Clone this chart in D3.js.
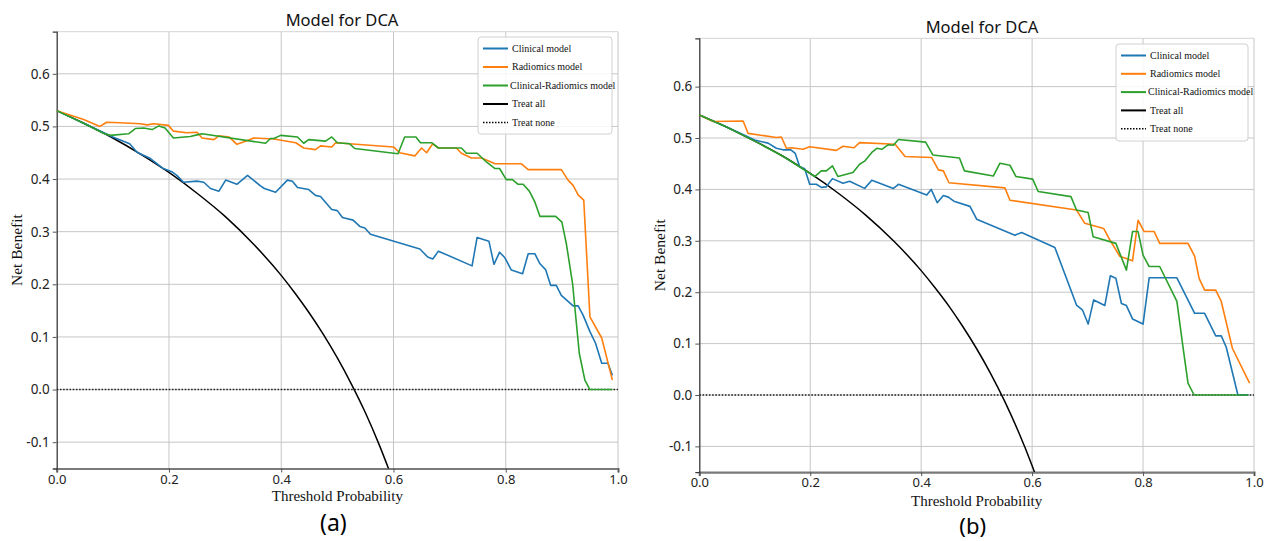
<!DOCTYPE html>
<html>
<head>
<meta charset="utf-8">
<script src="https://cdn.jsdelivr.net/npm/d3@7"></script>
<style>
  body { margin: 0; background: #fff; }
  svg { display: block; }
</style>
</head>
<body>
<div id="chart"></div>
<script>
// threshold probability / net benefit pairs
const clinicalA = [[0,.53],[.05,.505],[.10,.48],[.13,.467],[.143,.451],[.167,.439],[.179,.429],[.19,.42],[.205,.414],[.214,.407],[.226,.394],[.25,.396],[.262,.394],[.274,.382],[.289,.377],[.301,.398],[.321,.39],[.34,.407],[.363,.387],[.37,.382],[.39,.375],[.411,.398],[.42,.396],[.429,.384],[.449,.38],[.461,.369],[.47,.367],[.49,.342],[.50,.34],[.509,.327],[.528,.322],[.54,.31],[.549,.307],[.559,.295],[.647,.267],[.661,.252],[.67,.248],[.68,.263],[.74,.235],[.749,.289],[.77,.282],[.779,.238],[.789,.261],[.798,.251],[.81,.227],[.83,.22],[.84,.258],[.852,.258],[.861,.239],[.871,.228],[.88,.198],[.89,.198],[.899,.179],[.92,.159],[.929,.159],[.938,.141],[.95,.11],[.96,.088],[.971,.05],[.982,.05],[.99,.027]];
const radiomicsA = [[0,.53],[.048,.513],[.077,.50],[.089,.508],[.113,.507],[.149,.505],[.161,.503],[.173,.505],[.199,.502],[.208,.491],[.232,.488],[.25,.489],[.259,.478],[.28,.475],[.289,.482],[.307,.48],[.321,.466],[.339,.473],[.351,.478],[.387,.476],[.426,.469],[.44,.459],[.461,.456],[.47,.463],[.49,.461],[.497,.469],[.60,.461],[.611,.45],[.638,.444],[.65,.459],[.659,.45],[.67,.467],[.68,.459],[.712,.459],[.721,.449],[.739,.44],[.757,.44],[.781,.429],[.828,.429],[.84,.418],[.899,.418],[.911,.398],[.92,.388],[.929,.37],[.939,.36],[.95,.138],[.971,.098],[.99,.018]];
const combinedA = [[0,.53],[.05,.505],[.083,.487],[.095,.483],[.128,.486],[.14,.496],[.155,.497],[.17,.494],[.182,.501],[.193,.497],[.208,.478],[.238,.481],[.25,.484],[.259,.486],[.372,.468],[.381,.477],[.387,.477],[.399,.483],[.429,.48],[.44,.468],[.449,.475],[.479,.472],[.49,.48],[.50,.469],[.522,.467],[.531,.458],[.608,.448],[.62,.48],[.64,.48],[.648,.469],[.668,.469],[.68,.459],[.721,.459],[.73,.449],[.749,.449],[.766,.432],[.781,.42],[.789,.42],[.801,.399],[.812,.399],[.822,.39],[.831,.39],[.842,.377],[.852,.356],[.861,.329],[.889,.329],[.90,.318],[.908,.277],[.919,.202],[.931,.069],[.941,.018],[.95,0],[.99,0]];
const treatAllA = [[0,.53],[.05,.505],[.1,.478],[.15,.447],[.2,.4125],[.25,.373],[.3,.329],[.35,.277],[.4,.217],[.425,.1826],[.45,.1455],[.475,.1048],[.5,.06],[.525,.0105],[.55,-.044],[.575,-.106],[.6,-.175]];

const clinicalB = [[0,.545],[.05,.521],[.10,.496],[.124,.49],[.139,.48],[.151,.477],[.165,.477],[.173,.47],[.181,.444],[.19,.44],[.199,.41],[.211,.41],[.22,.404],[.229,.405],[.24,.421],[.259,.412],[.271,.416],[.298,.402],[.311,.418],[.35,.402],[.359,.41],[.41,.389],[.418,.40],[.429,.374],[.44,.388],[.449,.385],[.459,.377],[.488,.367],[.50,.342],[.569,.311],[.581,.316],[.641,.287],[.68,.175],[.691,.165],[.701,.138],[.711,.185],[.731,.174],[.741,.232],[.751,.227],[.761,.178],[.77,.174],[.781,.148],[.80,.138],[.811,.228],[.861,.228],[.893,.159],[.911,.159],[.931,.115],[.941,.115],[.95,.093],[.971,0],[.99,0]];
const radiomicsB = [[0,.545],[.025,.532],[.079,.533],[.088,.509],[.139,.501],[.148,.502],[.157,.48],[.166,.481],[.187,.478],[.199,.483],[.247,.476],[.259,.484],[.279,.481],[.289,.491],[.353,.488],[.371,.464],[.419,.462],[.431,.438],[.44,.436],[.45,.413],[.551,.403],[.56,.379],[.68,.36],[.695,.334],[.729,.324],[.74,.302],[.758,.27],[.781,.261],[.791,.34],[.802,.318],[.82,.318],[.83,.295],[.881,.295],[.893,.27],[.901,.227],[.911,.204],[.931,.204],[.941,.182],[.961,.091],[.992,.023]];
const combinedB = [[0,.545],[.05,.521],[.10,.494],[.15,.465],[.20,.431],[.208,.425],[.22,.436],[.229,.436],[.24,.446],[.25,.425],[.277,.433],[.289,.449],[.298,.455],[.311,.472],[.32,.48],[.329,.478],[.341,.487],[.35,.486],[.359,.497],[.408,.492],[.421,.467],[.469,.461],[.478,.436],[.53,.426],[.542,.451],[.56,.447],[.571,.425],[.601,.42],[.611,.396],[.67,.386],[.68,.36],[.701,.355],[.71,.308],[.751,.295],[.77,.243],[.781,.318],[.791,.318],[.80,.272],[.811,.25],[.83,.25],[.861,.182],[.871,.101],[.881,.023],[.892,0],[.99,0]];
const treatAllB = [[0,.545],[.05,.521],[.1,.494],[.15,.465],[.2,.431],[.25,.393],[.3,.35],[.35,.30],[.4,.242],[.425,.2087],[.45,.173],[.475,.1333],[.5,.09],[.525,.0421],[.55,-.011],[.575,-.0706],[.6,-.1375],[.625,-.2133]];

const treatNone = [[0,0],[1,0]];

const xTicks = [0, 0.2, 0.4, 0.6, 0.8, 1.0];
const yTicks = [-0.1, 0, 0.1, 0.2, 0.3, 0.4, 0.5, 0.6];
const legendNames = ["Clinical model", "Radiomics model", "Clinical-Radiomics model", "Treat all", "Treat none"];
const colors = ["#1f77b4", "#ff7f0e", "#2ca02c", "#000000", "#000000"];

var W = 1269, H = 541;
var svg = d3.select("#chart").append("svg")
    .attr("width", W).attr("height", H)
    .attr("viewBox", `0 0 ${W} ${H}`);

// plain hyphen for negatives, like the original
var fmt = d => d3.format(".1f")(d).replace("\u2212", "-");

var panels = [
    { id: "a", left: 56.7, right: 618, top: 31.7, bottom: 468.5, ymax: 0.68,
      title: "Model for DCA", titleX: 342, titleY: 26, xlabY: 501, tagY: 531, tagSize: 23, ylabX: 22,
      legend: { x: 478, y: 37, w: 134, h: 97, rowGap: 18.5 },
      series: [clinicalA, radiomicsA, combinedA, treatAllA, treatNone] },
    { id: "b", left: 699.3, right: 1254, top: 38.3, bottom: 472.1, ymax: 0.694,
      title: "Model for DCA", titleX: 982, titleY: 33, xlabY: 506, tagY: 534, tagSize: 22, ylabX: 665,
      legend: { x: 1116, y: 44, w: 132, h: 97, rowGap: 18.3 },
      series: [clinicalB, radiomicsB, combinedB, treatAllB, treatNone] }
];

panels.forEach(function (p) {
    var x = d3.scaleLinear().domain([0, 1]).range([p.left, p.right]);
    var y = d3.scaleLinear().domain([-0.15, p.ymax]).range([p.bottom, p.top]);
    var g = svg.append("g");

    g.append("defs").append("clipPath").attr("id", "clip-" + p.id)
        .append("rect")
        .attr("x", p.left).attr("y", p.top)
        .attr("width", p.right - p.left).attr("height", p.bottom - p.top);

    // grid
    g.append("g").selectAll("line").data(yTicks).enter().append("line")
        .attr("x1", p.left).attr("x2", p.right)
        .attr("y1", d => y(d)).attr("y2", d => y(d))
        .attr("stroke", "#c6c6c6").attr("stroke-width", 1);
    g.append("g").selectAll("line").data(xTicks.slice(1)).enter().append("line")
        .attr("x1", d => x(d)).attr("x2", d => x(d))
        .attr("y1", p.top).attr("y2", p.bottom)
        .attr("stroke", "#c6c6c6").attr("stroke-width", 1);
    // top frame
    g.append("line").attr("x1", p.left).attr("x2", p.right)
        .attr("y1", p.top).attr("y2", p.top)
        .attr("stroke", "#d4d4d4");

    // axes
    var xAxis = d3.axisBottom(x).tickValues(xTicks).tickFormat(fmt).tickSize(4).tickPadding(2);
    var yAxis = d3.axisLeft(y).tickValues(yTicks).tickFormat(fmt).tickSize(4).tickPadding(3);

    var gx = g.append("g").attr("transform", `translate(0,${p.bottom})`).call(xAxis);
    gx.select(".domain").attr("stroke", "#7a7a7a").attr("stroke-width", 2.2);
    gx.selectAll(".tick line").attr("stroke", "#555");
    gx.selectAll("text").attr("font-family", "'Noto Sans', sans-serif").attr("font-size", 13).attr("fill", "#222");

    var gy = g.append("g").attr("transform", `translate(${p.left},0)`).call(yAxis);
    gy.select(".domain").attr("stroke", "#3a3a3a").attr("stroke-width", 1.3);
    gy.selectAll(".tick line").attr("stroke", "#555");
    gy.selectAll("text").attr("font-family", "'Noto Sans', sans-serif").attr("font-size", 13.5).attr("fill", "#222");

    // curves
    var line = d3.line().x(d => x(d[0])).y(d => y(d[1]));
    var smooth = d3.line().x(d => x(d[0])).y(d => y(d[1])).curve(d3.curveMonotoneX);
    var curves = g.append("g").attr("clip-path", `url(#clip-${p.id})`);

    curves.append("path").datum(p.series[4])
        .attr("d", line).attr("fill", "none")
        .attr("stroke", "#222").attr("stroke-width", 1.6).attr("stroke-dasharray", "1.6,1.6");
    curves.append("path").datum(p.series[3])
        .attr("d", smooth).attr("fill", "none")
        .attr("stroke", "#000").attr("stroke-width", 1.5);
    [0, 1, 2].forEach(function (i) {
        curves.append("path").datum(p.series[i])
            .attr("d", line).attr("fill", "none")
            .attr("stroke", colors[i]).attr("stroke-width", 1.6)
            .attr("stroke-linejoin", "round");
    });

    // titles
    g.append("text").attr("x", p.titleX).attr("y", p.titleY)
        .attr("text-anchor", "middle")
        .attr("font-family", "'Noto Sans', sans-serif").attr("font-size", 16.5).attr("fill", "#111")
        .text(p.title);
    g.append("text").attr("x", (p.left + p.right) / 2).attr("y", p.xlabY)
        .attr("text-anchor", "middle")
        .attr("font-family", "'Liberation Serif', serif").attr("font-size", 15).attr("fill", "#111")
        .text("Threshold Probability");
    g.append("text")
        .attr("transform", `translate(${p.ylabX},${(p.top + p.bottom) / 2}) rotate(-90)`)
        .attr("text-anchor", "middle")
        .attr("font-family", "'Liberation Serif', serif").attr("font-size", 15.5).attr("fill", "#111")
        .text("Net Benefit");
    g.append("text").attr("x", (p.left + p.right) / 2 - 4).attr("y", p.tagY)
        .attr("text-anchor", "middle")
        .attr("font-family", "'Noto Sans', sans-serif").attr("font-size", p.tagSize).attr("fill", "#000")
        .text("(" + p.id + ")");

    // legend
    var L = p.legend;
    var lg = g.append("g").attr("transform", `translate(${L.x},${L.y})`);
    lg.append("rect").attr("width", L.w).attr("height", L.h).attr("rx", 3)
        .attr("fill", "#fff").attr("fill-opacity", 0.85)
        .attr("stroke", "#d0d0d0");
    legendNames.forEach(function (name, i) {
        var ry = 11.5 + i * L.rowGap;
        lg.append("line").attr("x1", 5).attr("x2", 30).attr("y1", ry).attr("y2", ry)
            .attr("stroke", colors[i]).attr("stroke-width", i === 4 ? 1.5 : 2)
            .attr("stroke-dasharray", i === 4 ? "1.5,1.5" : null);
        lg.append("text").attr("x", i === 2 ? 32 : 34).attr("y", ry).attr("dy", "0.32em")
            .attr("font-family", "'Liberation Serif', serif").attr("font-size", 10)
            .attr("fill", "#111")
            .text(name);
    });
});
</script>
</body>
</html>
